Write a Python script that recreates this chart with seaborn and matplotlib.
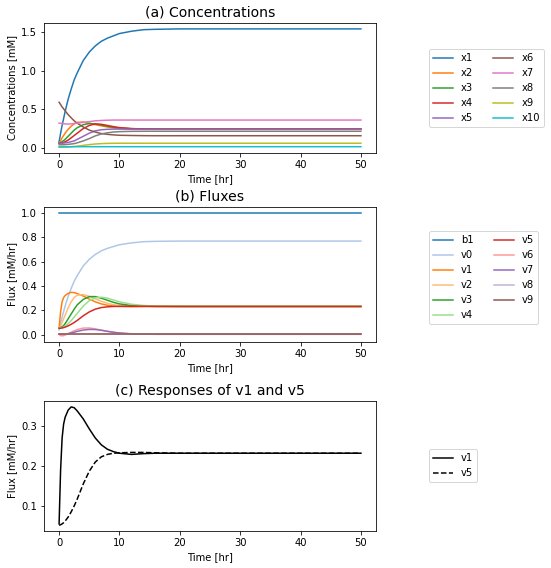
import pandas as pd
import matplotlib
matplotlib.use("Agg")
import matplotlib.pyplot as plt
import seaborn as sns

# time points [hr]
T = [0, 0.1, 0.25, 0.5, 0.75, 1, 1.5, 2, 2.5, 3, 4, 5, 6, 7, 8, 9, 10, 12, 14, 16, 20, 30, 40, 50]

# concentrations [mM]
x1 = [0.08, 0.12, 0.19, 0.29, 0.38, 0.47, 0.63, 0.76, 0.88, 0.97, 1.13, 1.24, 1.32, 1.38, 1.42,
      1.45, 1.48, 1.51, 1.53, 1.535, 1.54, 1.54, 1.54, 1.54]
x2 = [0.06, 0.07, 0.09, 0.13, 0.16, 0.19, 0.24, 0.28, 0.31, 0.33, 0.335, 0.32, 0.30, 0.285, 0.27,
      0.26, 0.255, 0.248, 0.245, 0.245, 0.245, 0.245, 0.245, 0.245]
x3 = [0.06, 0.06, 0.065, 0.08, 0.095, 0.11, 0.15, 0.19, 0.23, 0.26, 0.30, 0.315, 0.31, 0.295, 0.28,
      0.265, 0.255, 0.247, 0.244, 0.243, 0.243, 0.243, 0.243, 0.243]
x4 = [0.06, 0.06, 0.06, 0.065, 0.07, 0.08, 0.10, 0.13, 0.16, 0.19, 0.25, 0.29, 0.31, 0.305, 0.29,
      0.275, 0.262, 0.25, 0.245, 0.243, 0.242, 0.242, 0.242, 0.242]
x5 = [0.06, 0.06, 0.06, 0.06, 0.062, 0.065, 0.07, 0.08, 0.09, 0.11, 0.15, 0.19, 0.22, 0.235, 0.24,
      0.243, 0.243, 0.242, 0.241, 0.24, 0.24, 0.24, 0.24, 0.24]
x6 = [0.59, 0.58, 0.56, 0.53, 0.505, 0.48, 0.43, 0.39, 0.35, 0.32, 0.27, 0.23, 0.205, 0.185, 0.175,
      0.168, 0.163, 0.16, 0.158, 0.157, 0.157, 0.157, 0.157, 0.157]
x7 = [0.32, 0.32, 0.318, 0.315, 0.312, 0.31, 0.308, 0.31, 0.315, 0.32, 0.33, 0.34, 0.35, 0.355, 0.358,
      0.36, 0.36, 0.36, 0.36, 0.36, 0.36, 0.36, 0.36, 0.36]
x8 = [0.04, 0.04, 0.04, 0.04, 0.041, 0.042, 0.045, 0.05, 0.055, 0.065, 0.09, 0.12, 0.155, 0.18, 0.195,
      0.205, 0.21, 0.214, 0.215, 0.215, 0.215, 0.215, 0.215, 0.215]
x9 = [0.01, 0.01, 0.01, 0.01, 0.01, 0.011, 0.013, 0.015, 0.018, 0.022, 0.032, 0.042, 0.05, 0.055, 0.058,
      0.059, 0.06, 0.06, 0.06, 0.06, 0.06, 0.06, 0.06, 0.06]
x10 = [0.012, 0.012, 0.012, 0.013, 0.013, 0.013, 0.014, 0.014, 0.015, 0.015, 0.015, 0.015, 0.015, 0.015,
       0.015, 0.015, 0.015, 0.015, 0.015, 0.015, 0.015, 0.015, 0.015, 0.015]

# fluxes [mM/hr]
b1 = [1.0, 1.0, 1.0, 1.0, 1.0, 1.0, 1.0, 1.0, 1.0, 1.0, 1.0, 1.0, 1.0, 1.0, 1.0,
      1.0, 1.0, 1.0, 1.0, 1.0, 1.0, 1.0, 1.0, 1.0]
v0 = [0.04, 0.06, 0.095, 0.145, 0.19, 0.235, 0.315, 0.38, 0.44, 0.485, 0.565, 0.62, 0.66, 0.69, 0.71,
      0.725, 0.74, 0.755, 0.765, 0.768, 0.77, 0.77, 0.77, 0.77]
v1 = [0.055, 0.11, 0.19, 0.27, 0.305, 0.322, 0.34, 0.348, 0.346, 0.338, 0.318, 0.293, 0.27, 0.253, 0.242,
      0.236, 0.232, 0.229, 0.231, 0.232, 0.232, 0.232, 0.232, 0.232]
v2 = [0.055, 0.058, 0.07, 0.10, 0.13, 0.16, 0.22, 0.27, 0.305, 0.325, 0.33, 0.315, 0.295, 0.275, 0.258,
      0.247, 0.24, 0.234, 0.232, 0.232, 0.232, 0.232, 0.232, 0.232]
v3 = [0.055, 0.055, 0.058, 0.065, 0.075, 0.09, 0.13, 0.17, 0.21, 0.245, 0.29, 0.313, 0.313, 0.30, 0.283,
      0.266, 0.253, 0.24, 0.234, 0.232, 0.232, 0.232, 0.232, 0.232]
v4 = [0.055, 0.055, 0.056, 0.058, 0.062, 0.07, 0.09, 0.115, 0.145, 0.175, 0.235, 0.28, 0.303, 0.308, 0.30,
      0.285, 0.27, 0.25, 0.24, 0.235, 0.232, 0.232, 0.232, 0.232]
v5 = [0.052, 0.052, 0.053, 0.055, 0.058, 0.062, 0.072, 0.085, 0.10, 0.117, 0.155, 0.187, 0.21, 0.223, 0.229,
      0.232, 0.233, 0.234, 0.234, 0.233, 0.232, 0.232, 0.232, 0.232]
v6 = [0.005, -0.002, -0.008, -0.01, -0.008, -0.004, 0.008, 0.02, 0.032, 0.042, 0.054, 0.055, 0.048, 0.037, 0.026,
      0.018, 0.012, 0.006, 0.004, 0.003, 0.003, 0.003, 0.003, 0.003]
v7 = [0.003, 0.003, 0.003, 0.003, 0.003, 0.004, 0.008, 0.014, 0.02, 0.027, 0.038, 0.043, 0.042, 0.036, 0.028,
      0.02, 0.014, 0.007, 0.004, 0.003, 0.003, 0.003, 0.003, 0.003]
v8 = [0.002, 0.002, 0.002, 0.002, 0.002, 0.002, 0.002, 0.002, 0.002, 0.002, 0.002, 0.002, 0.002, 0.002, 0.002,
      0.002, 0.002, 0.002, 0.002, 0.002, 0.002, 0.002, 0.002, 0.002]
v9 = [0.005, 0.005, 0.005, 0.005, 0.005, 0.005, 0.005, 0.005, 0.005, 0.005, 0.005, 0.005, 0.005, 0.005, 0.005,
      0.005, 0.005, 0.005, 0.005, 0.005, 0.005, 0.005, 0.005, 0.005]

conc_names = ['x1', 'x2', 'x3', 'x4', 'x5', 'x6', 'x7', 'x8', 'x9', 'x10']
conc_vals = [x1, x2, x3, x4, x5, x6, x7, x8, x9, x10]
flux_names = ['b1', 'v0', 'v1', 'v2', 'v3', 'v4', 'v5', 'v6', 'v7', 'v8', 'v9']
flux_vals = [b1, v0, v1, v2, v3, v4, v5, v6, v7, v8, v9]


def long_frame(names, vals):
    rows = []
    for name, ys in zip(names, vals):
        for t, y in zip(T, ys):
            rows.append({'time': t, 'value': y, 'series': name})
    return pd.DataFrame(rows)


conc_df = long_frame(conc_names, conc_vals)
flux_df = long_frame(flux_names, flux_vals)
resp_df = long_frame(['v1', 'v5'], [v1, v5])

plt.rcParams['font.size'] = 10

W, H = 551, 568
fig = plt.figure(figsize=(W / 72, H / 72), dpi=72)


def add_ax(left, top, right, bottom):
    return fig.add_axes([left / W, 1 - bottom / H, (right - left) / W, (bottom - top) / H])


ax_a = add_ax(44, 23, 376, 153)
ax_b = add_ax(44, 207, 376, 342)
ax_c = add_ax(44, 401, 376, 531)

# (a) concentrations
sns.lineplot(data=conc_df, x='time', y='value', hue='series', hue_order=conc_names,
             palette='tab10', errorbar=None, ax=ax_a)
ax_a.set_title('(a) Concentrations', fontsize=14)
ax_a.set_xlabel('Time [hr]')
ax_a.set_ylabel('Concentrations [mM]')
sns.move_legend(ax_a, 'upper left', bbox_to_anchor=(429 / W, 1 - 49 / H),
                bbox_transform=fig.transFigure, ncol=2, title=None, borderaxespad=0)

# (b) fluxes
sns.lineplot(data=flux_df, x='time', y='value', hue='series', hue_order=flux_names,
             palette=sns.color_palette('tab20', 11), errorbar=None, ax=ax_b)
ax_b.set_title('(b) Fluxes', fontsize=14)
ax_b.set_xlabel('Time [hr]')
ax_b.set_ylabel('Flux [mM/hr]')
sns.move_legend(ax_b, 'upper left', bbox_to_anchor=(429 / W, 1 - 231 / H),
                bbox_transform=fig.transFigure, ncol=2, title=None, borderaxespad=0)

# (c) responses of v1 and v5
sns.lineplot(data=resp_df, x='time', y='value', style='series', style_order=['v1', 'v5'],
             dashes={'v1': '', 'v5': (3.7, 1.6)}, color='k', errorbar=None, ax=ax_c)
ax_c.set_title('(c) Responses of v1 and v5', fontsize=14)
ax_c.set_xlabel('Time [hr]')
ax_c.set_ylabel('Flux [mM/hr]')
sns.move_legend(ax_c, 'upper left', bbox_to_anchor=(429 / W, 1 - 449 / H),
                bbox_transform=fig.transFigure, title=None, borderaxespad=0)

fig.savefig('out.png', dpi=72)
